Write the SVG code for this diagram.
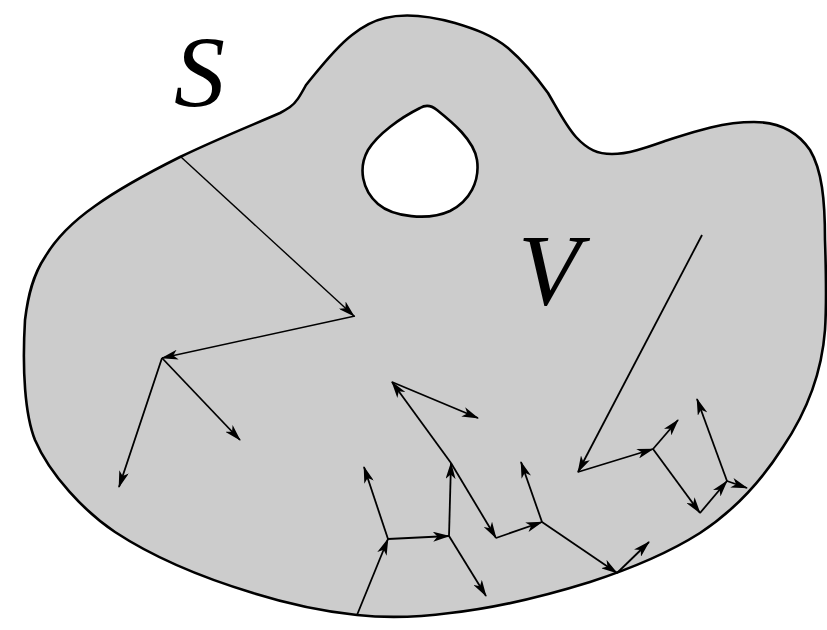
<svg xmlns="http://www.w3.org/2000/svg" width="827" height="630" viewBox="0 0 827 630">
<style>
.body{fill:#cccccc;stroke:#000;stroke-width:2.6;stroke-linejoin:round}
.arr{fill:none;stroke:#000;stroke-width:1.8;marker-end:url(#ah)}
.thin{stroke-width:1.4}
.lbl{font-family:"Liberation Serif","Times New Roman",serif;font-style:italic;font-size:102px;fill:#000}
</style>
<defs>
<marker id="ah" viewBox="0 0 17 10" refX="16" refY="5" markerWidth="17" markerHeight="10" markerUnits="userSpaceOnUse" orient="auto">
<path d="M0,0 L17,5 L0,10 L4.5,5 Z" fill="#000"/>
</marker>
</defs>
<rect width="827" height="630" fill="#fff"/>
<g id="region">
<path class="body" fill-rule="evenodd" d="M290,107 C296,103 300,96 306,85 C320,68 335,48 352,35 C362,27 372,21 385,18 C405,13 430,16 455,23 C475,29 492,35 508,48 C522,60 535,75 548,93 C558,110 566,126 576,137 C588,150 598,154 612,154 C628,154 645,148 665,141 C690,133 720,122 754,122 C775,122 795,128 810,150 C822,170 825,200 825,240 C826,270 827,300 825,330 C822,370 808,410 783,447 C762,480 735,510 700,533 C670,552 633,568 590,582 C545,596 495,608 450,613 C420,617 385,618 357,615 C320,611 285,603 253,593 C200,577 150,555 115,532 C85,512 50,475 35,440 C25,415 22,370 25,320 C28,295 33,275 45,257 C58,235 75,220 95,206 C120,188 150,172 180,157 C215,140 250,126 280,113 C284,111 287,109 290,107 Z M420,108 C400,118 378,134 368,150 C358,168 362,190 378,204 C393,217 428,221 450,211 C470,201 480,181 477,160 C474,140 452,122 437,110 C431,105 425,105 420,108 Z"/>
</g>
<g id="labels">
<text class="lbl" x="174" y="107">S</text>
<text class="lbl" x="518" y="305">V</text>
</g>
<g id="connectors">
<line class="arr thin" x1="181" y1="157" x2="354" y2="316"/>
<line class="arr thin" x1="355" y1="316" x2="162" y2="358"/>
<line class="arr" x1="162" y1="358" x2="119" y2="487"/>
<line class="arr" x1="162" y1="358" x2="240" y2="440"/>
<line class="arr" x1="357" y1="615" x2="388" y2="539"/>
<line class="arr" x1="388" y1="539" x2="364" y2="467"/>
<line class="arr" x1="388" y1="539" x2="449" y2="536"/>
<line class="arr" x1="449" y1="536" x2="451" y2="463"/>
<line class="arr" x1="449" y1="536" x2="486" y2="596"/>
<line class="arr" x1="451" y1="463" x2="392" y2="382"/>
<line class="arr" x1="451" y1="463" x2="496" y2="538"/>
<line class="arr" x1="392" y1="382" x2="478" y2="418"/>
<line class="arr" x1="496" y1="538" x2="542" y2="522"/>
<line class="arr" x1="542" y1="522" x2="521" y2="462"/>
<line class="arr" x1="542" y1="522" x2="617" y2="573"/>
<line class="arr" x1="617" y1="573" x2="649" y2="542"/>
<line class="arr" x1="702" y1="235" x2="578" y2="472"/>
<line class="arr" x1="578" y1="472" x2="653" y2="449"/>
<line class="arr" x1="653" y1="449" x2="678" y2="420"/>
<line class="arr" x1="653" y1="449" x2="700" y2="513"/>
<line class="arr" x1="700" y1="513" x2="727" y2="481"/>
<line class="arr" x1="727" y1="481" x2="697" y2="399"/>
<line class="arr" x1="727" y1="481" x2="747" y2="488"/>
</g>
</svg>
